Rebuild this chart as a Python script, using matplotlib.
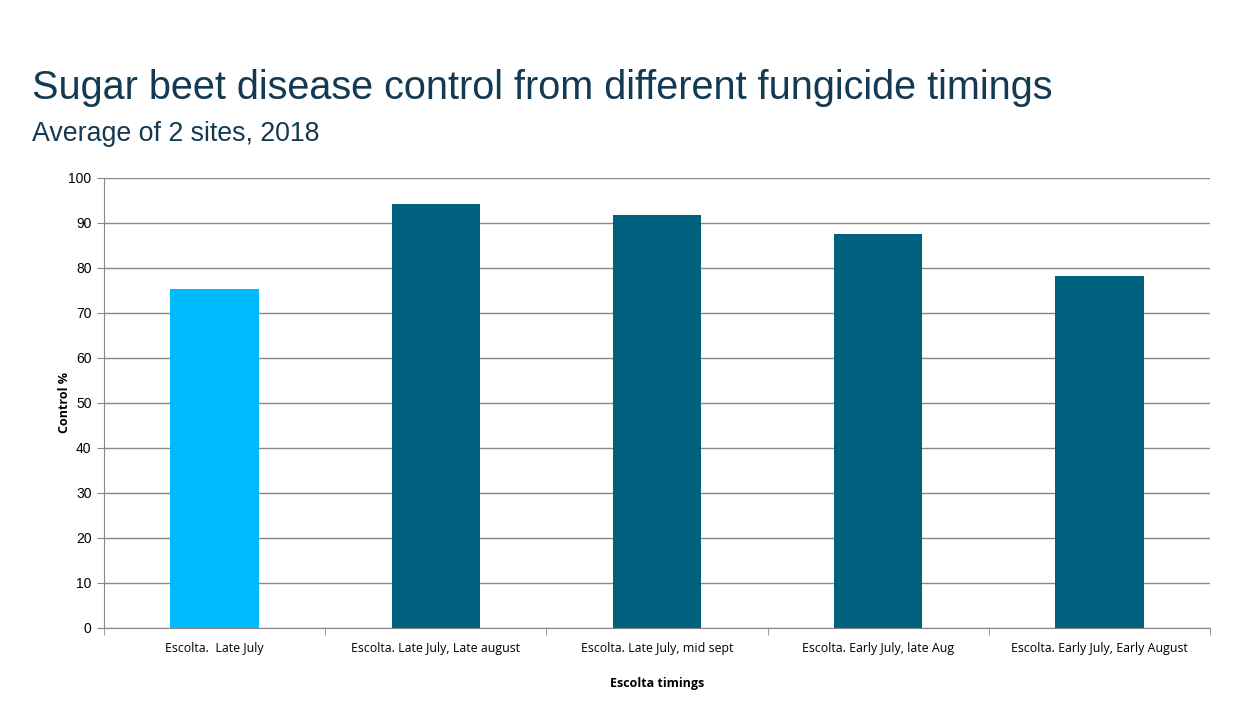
import matplotlib.pyplot as plt
import numpy as np

categories = ["Escolta.  Late July", "Escolta. Late July, Late august",
              "Escolta. Late July, mid sept", "Escolta. Early July, late Aug",
              "Escolta. Early July, Early August"]
control = [75.4, 94.3, 91.8, 87.6, 78.3]
colors = ['#00bbff', '#00617f', '#00617f', '#00617f', '#00617f']

fig = plt.figure(figsize=(12.44, 7.25), dpi=100)
ax = fig.add_axes([0.0836, 0.1338, 0.8891, 0.6207])

x = np.arange(len(categories))
ax.bar(x, control, width=0.4, color=colors, zorder=3)

ax.set_xlim(-0.5, len(categories) - 0.5)
ax.set_ylim(0, 100)
ax.set_yticks(range(0, 101, 10))
ax.set_xticks(x)
ax.set_xticklabels(categories, fontsize=8.9, family='Open Sans')
ax.set_xticks(np.arange(-0.5, len(categories)), minor=True)
ax.tick_params(axis='x', which='major', length=0, pad=10)
ax.tick_params(axis='x', which='minor', length=5, color='#888888')
ax.tick_params(axis='y', length=5, color='#888888', labelsize=10, pad=4)
for lbl in ax.get_yticklabels():
    lbl.set_family('Liberation Sans')

ax.grid(axis='y', color='#888888', linewidth=1, zorder=0)
for s in ['top', 'right']:
    ax.spines[s].set_visible(False)
for s in ['left', 'bottom']:
    ax.spines[s].set_color('#888888')

ax.set_ylabel('Control %', fontsize=9, fontweight='bold', family='Open Sans', labelpad=-2)
ax.set_xlabel('Escolta timings', fontsize=9, fontweight='bold', family='Open Sans', labelpad=16)

fig.text(0.0257, 0.864, 'Sugar beet disease control from different fungicide timings',
         fontsize=28.5, color='#133a52', family='Liberation Sans', va='baseline')
fig.text(0.0257, 0.806, 'Average of 2 sites, 2018',
         fontsize=19.3, color='#133a52', family='Liberation Sans', va='baseline')

fig.savefig('out.png', dpi=100)
